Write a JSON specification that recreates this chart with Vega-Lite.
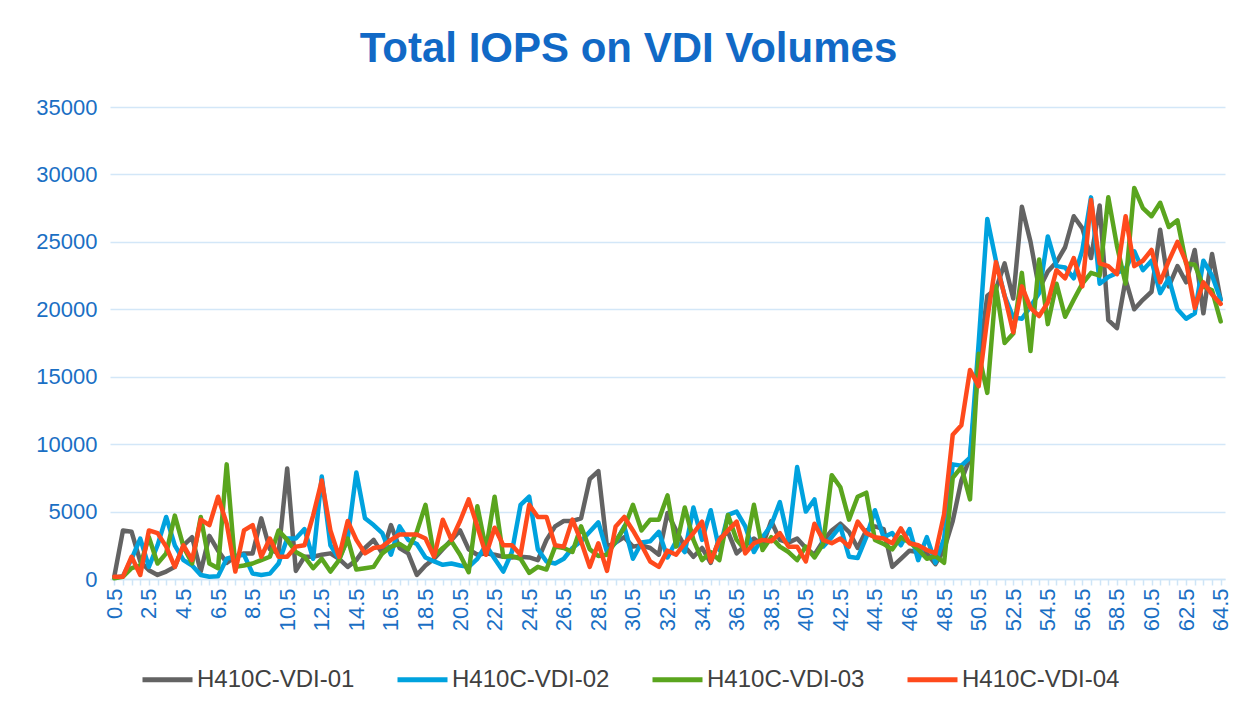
{
"$schema": "https://vega.github.io/schema/vega-lite/v6.json",
"width": 1115, "height": 472,
"autosize": {"type": "none"},
"padding": {"left": 110, "top": 107, "right": 27, "bottom": 134},
"background": "white",
"title": {"text": "Total IOPS on VDI Volumes", "font": "Liberation Sans", "fontSize": 42, "fontWeight": "bold", "color": "#1169C6", "anchor": "middle", "dx": -39, "offset": 25},
"config": {"view": {"stroke": null}},
"data": {"values": [
{"s":"H410C-VDI-01","x":0.5,"v":200},{"s":"H410C-VDI-01","x":1,"v":3600},{"s":"H410C-VDI-01","x":1.5,"v":3500},{"s":"H410C-VDI-01","x":2,"v":1300},{"s":"H410C-VDI-01","x":2.5,"v":650},{"s":"H410C-VDI-01","x":3,"v":300},{"s":"H410C-VDI-01","x":3.5,"v":550},{"s":"H410C-VDI-01","x":4,"v":900},{"s":"H410C-VDI-01","x":4.5,"v":2500},{"s":"H410C-VDI-01","x":5,"v":3100},
{"s":"H410C-VDI-01","x":5.5,"v":550},{"s":"H410C-VDI-01","x":6,"v":3200},{"s":"H410C-VDI-01","x":6.5,"v":2100},{"s":"H410C-VDI-01","x":7,"v":1200},{"s":"H410C-VDI-01","x":7.5,"v":1650},{"s":"H410C-VDI-01","x":8,"v":1900},{"s":"H410C-VDI-01","x":8.5,"v":1900},{"s":"H410C-VDI-01","x":9,"v":4500},{"s":"H410C-VDI-01","x":9.5,"v":2200},{"s":"H410C-VDI-01","x":10,"v":1900},
{"s":"H410C-VDI-01","x":10.5,"v":8200},{"s":"H410C-VDI-01","x":11,"v":600},{"s":"H410C-VDI-01","x":11.5,"v":1650},{"s":"H410C-VDI-01","x":12,"v":1650},{"s":"H410C-VDI-01","x":12.5,"v":1800},{"s":"H410C-VDI-01","x":13,"v":1900},{"s":"H410C-VDI-01","x":13.5,"v":1500},{"s":"H410C-VDI-01","x":14,"v":900},{"s":"H410C-VDI-01","x":14.5,"v":1400},{"s":"H410C-VDI-01","x":15,"v":2300},
{"s":"H410C-VDI-01","x":15.5,"v":2900},{"s":"H410C-VDI-01","x":16,"v":1900},{"s":"H410C-VDI-01","x":16.5,"v":4000},{"s":"H410C-VDI-01","x":17,"v":2300},{"s":"H410C-VDI-01","x":17.5,"v":1900},{"s":"H410C-VDI-01","x":18,"v":300},{"s":"H410C-VDI-01","x":18.5,"v":1000},{"s":"H410C-VDI-01","x":19,"v":1500},{"s":"H410C-VDI-01","x":19.5,"v":2200},{"s":"H410C-VDI-01","x":20,"v":2900},
{"s":"H410C-VDI-01","x":20.5,"v":3600},{"s":"H410C-VDI-01","x":21,"v":2200},{"s":"H410C-VDI-01","x":21.5,"v":1800},{"s":"H410C-VDI-01","x":22,"v":1900},{"s":"H410C-VDI-01","x":22.5,"v":1800},{"s":"H410C-VDI-01","x":23,"v":1650},{"s":"H410C-VDI-01","x":23.5,"v":1600},{"s":"H410C-VDI-01","x":24,"v":1650},{"s":"H410C-VDI-01","x":24.5,"v":1600},{"s":"H410C-VDI-01","x":25,"v":1400},
{"s":"H410C-VDI-01","x":25.5,"v":2900},{"s":"H410C-VDI-01","x":26,"v":3900},{"s":"H410C-VDI-01","x":26.5,"v":4300},{"s":"H410C-VDI-01","x":27,"v":4300},{"s":"H410C-VDI-01","x":27.5,"v":4500},{"s":"H410C-VDI-01","x":28,"v":7400},{"s":"H410C-VDI-01","x":28.5,"v":8000},{"s":"H410C-VDI-01","x":29,"v":2400},{"s":"H410C-VDI-01","x":29.5,"v":2700},{"s":"H410C-VDI-01","x":30,"v":3100},
{"s":"H410C-VDI-01","x":30.5,"v":2400},{"s":"H410C-VDI-01","x":31,"v":2500},{"s":"H410C-VDI-01","x":31.5,"v":2300},{"s":"H410C-VDI-01","x":32,"v":1800},{"s":"H410C-VDI-01","x":32.5,"v":4900},{"s":"H410C-VDI-01","x":33,"v":3600},{"s":"H410C-VDI-01","x":33.5,"v":2400},{"s":"H410C-VDI-01","x":34,"v":1650},{"s":"H410C-VDI-01","x":34.5,"v":2300},{"s":"H410C-VDI-01","x":35,"v":1200},
{"s":"H410C-VDI-01","x":35.5,"v":3000},{"s":"H410C-VDI-01","x":36,"v":3500},{"s":"H410C-VDI-01","x":36.5,"v":1900},{"s":"H410C-VDI-01","x":37,"v":2500},{"s":"H410C-VDI-01","x":37.5,"v":3000},{"s":"H410C-VDI-01","x":38,"v":2500},{"s":"H410C-VDI-01","x":38.5,"v":4300},{"s":"H410C-VDI-01","x":39,"v":2900},{"s":"H410C-VDI-01","x":39.5,"v":2700},{"s":"H410C-VDI-01","x":40,"v":3000},
{"s":"H410C-VDI-01","x":40.5,"v":2300},{"s":"H410C-VDI-01","x":41,"v":1800},{"s":"H410C-VDI-01","x":41.5,"v":2800},{"s":"H410C-VDI-01","x":42,"v":3600},{"s":"H410C-VDI-01","x":42.5,"v":4100},{"s":"H410C-VDI-01","x":43,"v":3500},{"s":"H410C-VDI-01","x":43.5,"v":2300},{"s":"H410C-VDI-01","x":44,"v":3600},{"s":"H410C-VDI-01","x":44.5,"v":3900},{"s":"H410C-VDI-01","x":45,"v":3700},
{"s":"H410C-VDI-01","x":45.5,"v":900},{"s":"H410C-VDI-01","x":46,"v":1500},{"s":"H410C-VDI-01","x":46.5,"v":2100},{"s":"H410C-VDI-01","x":47,"v":2000},{"s":"H410C-VDI-01","x":47.5,"v":1900},{"s":"H410C-VDI-01","x":48,"v":1100},{"s":"H410C-VDI-01","x":48.5,"v":2200},{"s":"H410C-VDI-01","x":49,"v":4300},{"s":"H410C-VDI-01","x":49.5,"v":7300},{"s":"H410C-VDI-01","x":50,"v":9000},
{"s":"H410C-VDI-01","x":50.5,"v":16000},{"s":"H410C-VDI-01","x":51,"v":21000},{"s":"H410C-VDI-01","x":51.5,"v":21500},{"s":"H410C-VDI-01","x":52,"v":23400},{"s":"H410C-VDI-01","x":52.5,"v":20800},{"s":"H410C-VDI-01","x":53,"v":27600},{"s":"H410C-VDI-01","x":53.5,"v":25000},{"s":"H410C-VDI-01","x":54,"v":21500},{"s":"H410C-VDI-01","x":54.5,"v":22800},{"s":"H410C-VDI-01","x":55,"v":23500},
{"s":"H410C-VDI-01","x":55.5,"v":24600},{"s":"H410C-VDI-01","x":56,"v":26900},{"s":"H410C-VDI-01","x":56.5,"v":26000},{"s":"H410C-VDI-01","x":57,"v":23800},{"s":"H410C-VDI-01","x":57.5,"v":27700},{"s":"H410C-VDI-01","x":58,"v":19200},{"s":"H410C-VDI-01","x":58.5,"v":18600},{"s":"H410C-VDI-01","x":59,"v":22200},{"s":"H410C-VDI-01","x":59.5,"v":20000},{"s":"H410C-VDI-01","x":60,"v":20700},
{"s":"H410C-VDI-01","x":60.5,"v":21300},{"s":"H410C-VDI-01","x":61,"v":25900},{"s":"H410C-VDI-01","x":61.5,"v":21700},{"s":"H410C-VDI-01","x":62,"v":23200},{"s":"H410C-VDI-01","x":62.5,"v":22000},{"s":"H410C-VDI-01","x":63,"v":24400},{"s":"H410C-VDI-01","x":63.5,"v":19700},{"s":"H410C-VDI-01","x":64,"v":24100},{"s":"H410C-VDI-01","x":64.5,"v":20700},

{"s":"H410C-VDI-02","x":0.5,"v":100},{"s":"H410C-VDI-02","x":1,"v":200},{"s":"H410C-VDI-02","x":1.5,"v":1500},{"s":"H410C-VDI-02","x":2,"v":3000},{"s":"H410C-VDI-02","x":2.5,"v":900},{"s":"H410C-VDI-02","x":3,"v":2500},{"s":"H410C-VDI-02","x":3.5,"v":4600},{"s":"H410C-VDI-02","x":4,"v":2500},{"s":"H410C-VDI-02","x":4.5,"v":1400},{"s":"H410C-VDI-02","x":5,"v":1000},
{"s":"H410C-VDI-02","x":5.5,"v":300},{"s":"H410C-VDI-02","x":6,"v":170},{"s":"H410C-VDI-02","x":6.5,"v":200},{"s":"H410C-VDI-02","x":7,"v":1500},{"s":"H410C-VDI-02","x":7.5,"v":1700},{"s":"H410C-VDI-02","x":8,"v":1800},{"s":"H410C-VDI-02","x":8.5,"v":400},{"s":"H410C-VDI-02","x":9,"v":300},{"s":"H410C-VDI-02","x":9.5,"v":400},{"s":"H410C-VDI-02","x":10,"v":1150},
{"s":"H410C-VDI-02","x":10.5,"v":3000},{"s":"H410C-VDI-02","x":11,"v":3000},{"s":"H410C-VDI-02","x":11.5,"v":3700},{"s":"H410C-VDI-02","x":12,"v":1500},{"s":"H410C-VDI-02","x":12.5,"v":7600},{"s":"H410C-VDI-02","x":13,"v":2500},{"s":"H410C-VDI-02","x":13.5,"v":1500},{"s":"H410C-VDI-02","x":14,"v":3000},{"s":"H410C-VDI-02","x":14.5,"v":7900},{"s":"H410C-VDI-02","x":15,"v":4500},
{"s":"H410C-VDI-02","x":15.5,"v":4000},{"s":"H410C-VDI-02","x":16,"v":3400},{"s":"H410C-VDI-02","x":16.5,"v":1800},{"s":"H410C-VDI-02","x":17,"v":3900},{"s":"H410C-VDI-02","x":17.5,"v":2900},{"s":"H410C-VDI-02","x":18,"v":2600},{"s":"H410C-VDI-02","x":18.5,"v":1600},{"s":"H410C-VDI-02","x":19,"v":1300},{"s":"H410C-VDI-02","x":19.5,"v":1050},{"s":"H410C-VDI-02","x":20,"v":1150},
{"s":"H410C-VDI-02","x":20.5,"v":1000},{"s":"H410C-VDI-02","x":21,"v":900},{"s":"H410C-VDI-02","x":21.5,"v":1500},{"s":"H410C-VDI-02","x":22,"v":2500},{"s":"H410C-VDI-02","x":22.5,"v":1500},{"s":"H410C-VDI-02","x":23,"v":550},{"s":"H410C-VDI-02","x":23.5,"v":2000},{"s":"H410C-VDI-02","x":24,"v":5500},{"s":"H410C-VDI-02","x":24.5,"v":6100},{"s":"H410C-VDI-02","x":25,"v":2200},
{"s":"H410C-VDI-02","x":25.5,"v":1300},{"s":"H410C-VDI-02","x":26,"v":1150},{"s":"H410C-VDI-02","x":26.5,"v":1500},{"s":"H410C-VDI-02","x":27,"v":2300},{"s":"H410C-VDI-02","x":27.5,"v":2800},{"s":"H410C-VDI-02","x":28,"v":3500},{"s":"H410C-VDI-02","x":28.5,"v":4200},{"s":"H410C-VDI-02","x":29,"v":2000},{"s":"H410C-VDI-02","x":29.5,"v":2700},{"s":"H410C-VDI-02","x":30,"v":3900},
{"s":"H410C-VDI-02","x":30.5,"v":1500},{"s":"H410C-VDI-02","x":31,"v":2700},{"s":"H410C-VDI-02","x":31.5,"v":2800},{"s":"H410C-VDI-02","x":32,"v":3500},{"s":"H410C-VDI-02","x":32.5,"v":1600},{"s":"H410C-VDI-02","x":33,"v":2800},{"s":"H410C-VDI-02","x":33.5,"v":2000},{"s":"H410C-VDI-02","x":34,"v":5300},{"s":"H410C-VDI-02","x":34.5,"v":2900},{"s":"H410C-VDI-02","x":35,"v":5100},
{"s":"H410C-VDI-02","x":35.5,"v":2150},{"s":"H410C-VDI-02","x":36,"v":4750},{"s":"H410C-VDI-02","x":36.5,"v":5000},{"s":"H410C-VDI-02","x":37,"v":3900},{"s":"H410C-VDI-02","x":37.5,"v":2000},{"s":"H410C-VDI-02","x":38,"v":3100},{"s":"H410C-VDI-02","x":38.5,"v":4000},{"s":"H410C-VDI-02","x":39,"v":5700},{"s":"H410C-VDI-02","x":39.5,"v":2900},{"s":"H410C-VDI-02","x":40,"v":8300},
{"s":"H410C-VDI-02","x":40.5,"v":5000},{"s":"H410C-VDI-02","x":41,"v":5900},{"s":"H410C-VDI-02","x":41.5,"v":2400},{"s":"H410C-VDI-02","x":42,"v":3100},{"s":"H410C-VDI-02","x":42.5,"v":3900},{"s":"H410C-VDI-02","x":43,"v":1650},{"s":"H410C-VDI-02","x":43.5,"v":1550},{"s":"H410C-VDI-02","x":44,"v":3100},{"s":"H410C-VDI-02","x":44.5,"v":5100},{"s":"H410C-VDI-02","x":45,"v":3100},
{"s":"H410C-VDI-02","x":45.5,"v":3400},{"s":"H410C-VDI-02","x":46,"v":2500},{"s":"H410C-VDI-02","x":46.5,"v":3700},{"s":"H410C-VDI-02","x":47,"v":1400},{"s":"H410C-VDI-02","x":47.5,"v":3100},{"s":"H410C-VDI-02","x":48,"v":1200},{"s":"H410C-VDI-02","x":48.5,"v":3000},{"s":"H410C-VDI-02","x":49,"v":8500},{"s":"H410C-VDI-02","x":49.5,"v":8400},{"s":"H410C-VDI-02","x":50,"v":9000},
{"s":"H410C-VDI-02","x":50.5,"v":17500},{"s":"H410C-VDI-02","x":51,"v":26700},{"s":"H410C-VDI-02","x":51.5,"v":23600},{"s":"H410C-VDI-02","x":52,"v":21000},{"s":"H410C-VDI-02","x":52.5,"v":19400},{"s":"H410C-VDI-02","x":53,"v":19300},{"s":"H410C-VDI-02","x":53.5,"v":20200},{"s":"H410C-VDI-02","x":54,"v":21200},{"s":"H410C-VDI-02","x":54.5,"v":25400},{"s":"H410C-VDI-02","x":55,"v":23200},
{"s":"H410C-VDI-02","x":55.5,"v":23100},{"s":"H410C-VDI-02","x":56,"v":22300},{"s":"H410C-VDI-02","x":56.5,"v":24400},{"s":"H410C-VDI-02","x":57,"v":28300},{"s":"H410C-VDI-02","x":57.5,"v":21900},{"s":"H410C-VDI-02","x":58,"v":22400},{"s":"H410C-VDI-02","x":58.5,"v":22700},{"s":"H410C-VDI-02","x":59,"v":23000},{"s":"H410C-VDI-02","x":59.5,"v":24300},{"s":"H410C-VDI-02","x":60,"v":22900},
{"s":"H410C-VDI-02","x":60.5,"v":23600},{"s":"H410C-VDI-02","x":61,"v":21200},{"s":"H410C-VDI-02","x":61.5,"v":22300},{"s":"H410C-VDI-02","x":62,"v":20000},{"s":"H410C-VDI-02","x":62.5,"v":19300},{"s":"H410C-VDI-02","x":63,"v":19700},{"s":"H410C-VDI-02","x":63.5,"v":23600},{"s":"H410C-VDI-02","x":64,"v":22500},{"s":"H410C-VDI-02","x":64.5,"v":20700},

{"s":"H410C-VDI-03","x":0.5,"v":50},{"s":"H410C-VDI-03","x":1,"v":170},{"s":"H410C-VDI-03","x":1.5,"v":800},{"s":"H410C-VDI-03","x":2,"v":1000},{"s":"H410C-VDI-03","x":2.5,"v":3100},{"s":"H410C-VDI-03","x":3,"v":1150},{"s":"H410C-VDI-03","x":3.5,"v":1900},{"s":"H410C-VDI-03","x":4,"v":4700},{"s":"H410C-VDI-03","x":4.5,"v":2400},{"s":"H410C-VDI-03","x":5,"v":1150},
{"s":"H410C-VDI-03","x":5.5,"v":4600},{"s":"H410C-VDI-03","x":6,"v":1150},{"s":"H410C-VDI-03","x":6.5,"v":800},{"s":"H410C-VDI-03","x":7,"v":8500},{"s":"H410C-VDI-03","x":7.5,"v":900},{"s":"H410C-VDI-03","x":8,"v":1000},{"s":"H410C-VDI-03","x":8.5,"v":1150},{"s":"H410C-VDI-03","x":9,"v":1400},{"s":"H410C-VDI-03","x":9.5,"v":1650},{"s":"H410C-VDI-03","x":10,"v":3600},
{"s":"H410C-VDI-03","x":10.5,"v":2900},{"s":"H410C-VDI-03","x":11,"v":2000},{"s":"H410C-VDI-03","x":11.5,"v":1650},{"s":"H410C-VDI-03","x":12,"v":800},{"s":"H410C-VDI-03","x":12.5,"v":1500},{"s":"H410C-VDI-03","x":13,"v":550},{"s":"H410C-VDI-03","x":13.5,"v":1400},{"s":"H410C-VDI-03","x":14,"v":3000},{"s":"H410C-VDI-03","x":14.5,"v":700},{"s":"H410C-VDI-03","x":15,"v":800},
{"s":"H410C-VDI-03","x":15.5,"v":900},{"s":"H410C-VDI-03","x":16,"v":1900},{"s":"H410C-VDI-03","x":16.5,"v":2400},{"s":"H410C-VDI-03","x":17,"v":2600},{"s":"H410C-VDI-03","x":17.5,"v":2200},{"s":"H410C-VDI-03","x":18,"v":3500},{"s":"H410C-VDI-03","x":18.5,"v":5500},{"s":"H410C-VDI-03","x":19,"v":1700},{"s":"H410C-VDI-03","x":19.5,"v":2300},{"s":"H410C-VDI-03","x":20,"v":2800},
{"s":"H410C-VDI-03","x":20.5,"v":1800},{"s":"H410C-VDI-03","x":21,"v":500},{"s":"H410C-VDI-03","x":21.5,"v":5400},{"s":"H410C-VDI-03","x":22,"v":2200},{"s":"H410C-VDI-03","x":22.5,"v":6100},{"s":"H410C-VDI-03","x":23,"v":1650},{"s":"H410C-VDI-03","x":23.5,"v":1700},{"s":"H410C-VDI-03","x":24,"v":1500},{"s":"H410C-VDI-03","x":24.5,"v":450},{"s":"H410C-VDI-03","x":25,"v":900},
{"s":"H410C-VDI-03","x":25.5,"v":700},{"s":"H410C-VDI-03","x":26,"v":2400},{"s":"H410C-VDI-03","x":26.5,"v":2300},{"s":"H410C-VDI-03","x":27,"v":2000},{"s":"H410C-VDI-03","x":27.5,"v":3900},{"s":"H410C-VDI-03","x":28,"v":2200},{"s":"H410C-VDI-03","x":28.5,"v":1700},{"s":"H410C-VDI-03","x":29,"v":1800},{"s":"H410C-VDI-03","x":29.5,"v":2800},{"s":"H410C-VDI-03","x":30,"v":3800},
{"s":"H410C-VDI-03","x":30.5,"v":5500},{"s":"H410C-VDI-03","x":31,"v":3600},{"s":"H410C-VDI-03","x":31.5,"v":4400},{"s":"H410C-VDI-03","x":32,"v":4400},{"s":"H410C-VDI-03","x":32.5,"v":6200},{"s":"H410C-VDI-03","x":33,"v":2400},{"s":"H410C-VDI-03","x":33.5,"v":5300},{"s":"H410C-VDI-03","x":34,"v":2900},{"s":"H410C-VDI-03","x":34.5,"v":1400},{"s":"H410C-VDI-03","x":35,"v":2000},
{"s":"H410C-VDI-03","x":35.5,"v":1400},{"s":"H410C-VDI-03","x":36,"v":4750},{"s":"H410C-VDI-03","x":36.5,"v":2900},{"s":"H410C-VDI-03","x":37,"v":2150},{"s":"H410C-VDI-03","x":37.5,"v":5500},{"s":"H410C-VDI-03","x":38,"v":2150},{"s":"H410C-VDI-03","x":38.5,"v":3100},{"s":"H410C-VDI-03","x":39,"v":2400},{"s":"H410C-VDI-03","x":39.5,"v":2000},{"s":"H410C-VDI-03","x":40,"v":1400},
{"s":"H410C-VDI-03","x":40.5,"v":2400},{"s":"H410C-VDI-03","x":41,"v":1600},{"s":"H410C-VDI-03","x":41.5,"v":2600},{"s":"H410C-VDI-03","x":42,"v":7700},{"s":"H410C-VDI-03","x":42.5,"v":6800},{"s":"H410C-VDI-03","x":43,"v":4400},{"s":"H410C-VDI-03","x":43.5,"v":6100},{"s":"H410C-VDI-03","x":44,"v":6400},{"s":"H410C-VDI-03","x":44.5,"v":2900},{"s":"H410C-VDI-03","x":45,"v":2600},
{"s":"H410C-VDI-03","x":45.5,"v":2200},{"s":"H410C-VDI-03","x":46,"v":3100},{"s":"H410C-VDI-03","x":46.5,"v":2700},{"s":"H410C-VDI-03","x":47,"v":2200},{"s":"H410C-VDI-03","x":47.5,"v":1500},{"s":"H410C-VDI-03","x":48,"v":1700},{"s":"H410C-VDI-03","x":48.5,"v":1200},{"s":"H410C-VDI-03","x":49,"v":7500},{"s":"H410C-VDI-03","x":49.5,"v":8300},{"s":"H410C-VDI-03","x":50,"v":5900},
{"s":"H410C-VDI-03","x":50.5,"v":16700},{"s":"H410C-VDI-03","x":51,"v":13800},{"s":"H410C-VDI-03","x":51.5,"v":21700},{"s":"H410C-VDI-03","x":52,"v":17500},{"s":"H410C-VDI-03","x":52.5,"v":18200},{"s":"H410C-VDI-03","x":53,"v":22700},{"s":"H410C-VDI-03","x":53.5,"v":16900},{"s":"H410C-VDI-03","x":54,"v":23700},{"s":"H410C-VDI-03","x":54.5,"v":18900},{"s":"H410C-VDI-03","x":55,"v":21900},
{"s":"H410C-VDI-03","x":55.5,"v":19450},{"s":"H410C-VDI-03","x":56,"v":20700},{"s":"H410C-VDI-03","x":56.5,"v":21900},{"s":"H410C-VDI-03","x":57,"v":22700},{"s":"H410C-VDI-03","x":57.5,"v":22500},{"s":"H410C-VDI-03","x":58,"v":28300},{"s":"H410C-VDI-03","x":58.5,"v":24700},{"s":"H410C-VDI-03","x":59,"v":21900},{"s":"H410C-VDI-03","x":59.5,"v":29000},{"s":"H410C-VDI-03","x":60,"v":27500},
{"s":"H410C-VDI-03","x":60.5,"v":26900},{"s":"H410C-VDI-03","x":61,"v":27900},{"s":"H410C-VDI-03","x":61.5,"v":26100},{"s":"H410C-VDI-03","x":62,"v":26600},{"s":"H410C-VDI-03","x":62.5,"v":23400},{"s":"H410C-VDI-03","x":63,"v":23300},{"s":"H410C-VDI-03","x":63.5,"v":21700},{"s":"H410C-VDI-03","x":64,"v":21400},{"s":"H410C-VDI-03","x":64.5,"v":19100},

{"s":"H410C-VDI-04","x":0.5,"v":170},{"s":"H410C-VDI-04","x":1,"v":170},{"s":"H410C-VDI-04","x":1.5,"v":1650},{"s":"H410C-VDI-04","x":2,"v":300},{"s":"H410C-VDI-04","x":2.5,"v":3600},{"s":"H410C-VDI-04","x":3,"v":3400},{"s":"H410C-VDI-04","x":3.5,"v":2400},{"s":"H410C-VDI-04","x":4,"v":900},{"s":"H410C-VDI-04","x":4.5,"v":2500},{"s":"H410C-VDI-04","x":5,"v":1400},
{"s":"H410C-VDI-04","x":5.5,"v":4400},{"s":"H410C-VDI-04","x":6,"v":4000},{"s":"H410C-VDI-04","x":6.5,"v":6100},{"s":"H410C-VDI-04","x":7,"v":4100},{"s":"H410C-VDI-04","x":7.5,"v":550},{"s":"H410C-VDI-04","x":8,"v":3600},{"s":"H410C-VDI-04","x":8.5,"v":4000},{"s":"H410C-VDI-04","x":9,"v":1650},{"s":"H410C-VDI-04","x":9.5,"v":3000},{"s":"H410C-VDI-04","x":10,"v":1650},
{"s":"H410C-VDI-04","x":10.5,"v":1650},{"s":"H410C-VDI-04","x":11,"v":2400},{"s":"H410C-VDI-04","x":11.5,"v":2500},{"s":"H410C-VDI-04","x":12,"v":4700},{"s":"H410C-VDI-04","x":12.5,"v":7300},{"s":"H410C-VDI-04","x":13,"v":3600},{"s":"H410C-VDI-04","x":13.5,"v":1650},{"s":"H410C-VDI-04","x":14,"v":4300},{"s":"H410C-VDI-04","x":14.5,"v":2900},{"s":"H410C-VDI-04","x":15,"v":1900},
{"s":"H410C-VDI-04","x":15.5,"v":2300},{"s":"H410C-VDI-04","x":16,"v":2400},{"s":"H410C-VDI-04","x":16.5,"v":2900},{"s":"H410C-VDI-04","x":17,"v":3300},{"s":"H410C-VDI-04","x":17.5,"v":3300},{"s":"H410C-VDI-04","x":18,"v":3300},{"s":"H410C-VDI-04","x":18.5,"v":3000},{"s":"H410C-VDI-04","x":19,"v":1650},{"s":"H410C-VDI-04","x":19.5,"v":4400},{"s":"H410C-VDI-04","x":20,"v":2900},
{"s":"H410C-VDI-04","x":20.5,"v":4300},{"s":"H410C-VDI-04","x":21,"v":5900},{"s":"H410C-VDI-04","x":21.5,"v":3900},{"s":"H410C-VDI-04","x":22,"v":1800},{"s":"H410C-VDI-04","x":22.5,"v":3800},{"s":"H410C-VDI-04","x":23,"v":2500},{"s":"H410C-VDI-04","x":23.5,"v":2500},{"s":"H410C-VDI-04","x":24,"v":1800},{"s":"H410C-VDI-04","x":24.5,"v":5500},{"s":"H410C-VDI-04","x":25,"v":4600},
{"s":"H410C-VDI-04","x":25.5,"v":4600},{"s":"H410C-VDI-04","x":26,"v":2500},{"s":"H410C-VDI-04","x":26.5,"v":2400},{"s":"H410C-VDI-04","x":27,"v":4400},{"s":"H410C-VDI-04","x":27.5,"v":2800},{"s":"H410C-VDI-04","x":28,"v":900},{"s":"H410C-VDI-04","x":28.5,"v":2650},{"s":"H410C-VDI-04","x":29,"v":600},{"s":"H410C-VDI-04","x":29.5,"v":3900},{"s":"H410C-VDI-04","x":30,"v":4600},
{"s":"H410C-VDI-04","x":30.5,"v":3600},{"s":"H410C-VDI-04","x":31,"v":2500},{"s":"H410C-VDI-04","x":31.5,"v":1300},{"s":"H410C-VDI-04","x":32,"v":900},{"s":"H410C-VDI-04","x":32.5,"v":2100},{"s":"H410C-VDI-04","x":33,"v":1800},{"s":"H410C-VDI-04","x":33.5,"v":2650},{"s":"H410C-VDI-04","x":34,"v":3400},{"s":"H410C-VDI-04","x":34.5,"v":4250},{"s":"H410C-VDI-04","x":35,"v":1300},
{"s":"H410C-VDI-04","x":35.5,"v":2900},{"s":"H410C-VDI-04","x":36,"v":3600},{"s":"H410C-VDI-04","x":36.5,"v":4250},{"s":"H410C-VDI-04","x":37,"v":1900},{"s":"H410C-VDI-04","x":37.5,"v":2650},{"s":"H410C-VDI-04","x":38,"v":2900},{"s":"H410C-VDI-04","x":38.5,"v":2800},{"s":"H410C-VDI-04","x":39,"v":3400},{"s":"H410C-VDI-04","x":39.5,"v":2400},{"s":"H410C-VDI-04","x":40,"v":2400},
{"s":"H410C-VDI-04","x":40.5,"v":1300},{"s":"H410C-VDI-04","x":41,"v":4100},{"s":"H410C-VDI-04","x":41.5,"v":2900},{"s":"H410C-VDI-04","x":42,"v":2650},{"s":"H410C-VDI-04","x":42.5,"v":3000},{"s":"H410C-VDI-04","x":43,"v":2400},{"s":"H410C-VDI-04","x":43.5,"v":4250},{"s":"H410C-VDI-04","x":44,"v":3400},{"s":"H410C-VDI-04","x":44.5,"v":3100},{"s":"H410C-VDI-04","x":45,"v":3000},
{"s":"H410C-VDI-04","x":45.5,"v":2650},{"s":"H410C-VDI-04","x":46,"v":3750},{"s":"H410C-VDI-04","x":46.5,"v":2650},{"s":"H410C-VDI-04","x":47,"v":2500},{"s":"H410C-VDI-04","x":47.5,"v":2150},{"s":"H410C-VDI-04","x":48,"v":1900},{"s":"H410C-VDI-04","x":48.5,"v":4800},{"s":"H410C-VDI-04","x":49,"v":10700},{"s":"H410C-VDI-04","x":49.5,"v":11400},{"s":"H410C-VDI-04","x":50,"v":15500},
{"s":"H410C-VDI-04","x":50.5,"v":14300},{"s":"H410C-VDI-04","x":51,"v":19300},{"s":"H410C-VDI-04","x":51.5,"v":23500},{"s":"H410C-VDI-04","x":52,"v":21000},{"s":"H410C-VDI-04","x":52.5,"v":18300},{"s":"H410C-VDI-04","x":53,"v":21700},{"s":"H410C-VDI-04","x":53.5,"v":20100},{"s":"H410C-VDI-04","x":54,"v":19500},{"s":"H410C-VDI-04","x":54.5,"v":20500},{"s":"H410C-VDI-04","x":55,"v":22900},
{"s":"H410C-VDI-04","x":55.5,"v":22300},{"s":"H410C-VDI-04","x":56,"v":23800},{"s":"H410C-VDI-04","x":56.5,"v":21700},{"s":"H410C-VDI-04","x":57,"v":28100},{"s":"H410C-VDI-04","x":57.5,"v":23400},{"s":"H410C-VDI-04","x":58,"v":23200},{"s":"H410C-VDI-04","x":58.5,"v":22600},{"s":"H410C-VDI-04","x":59,"v":26900},{"s":"H410C-VDI-04","x":59.5,"v":23200},{"s":"H410C-VDI-04","x":60,"v":23600},
{"s":"H410C-VDI-04","x":60.5,"v":24400},{"s":"H410C-VDI-04","x":61,"v":22000},{"s":"H410C-VDI-04","x":61.5,"v":23600},{"s":"H410C-VDI-04","x":62,"v":25000},{"s":"H410C-VDI-04","x":62.5,"v":23500},{"s":"H410C-VDI-04","x":63,"v":20100},{"s":"H410C-VDI-04","x":63.5,"v":22000},{"s":"H410C-VDI-04","x":64,"v":21100},{"s":"H410C-VDI-04","x":64.5,"v":20400}
]},
"mark": {"type": "line", "strokeWidth": 4.5, "strokeCap": "round", "strokeJoin": "round"},
"encoding": {
  "x": {"field": "x", "type": "ordinal", "sort": "ascending",
    "scale": {"type": "point", "padding": 0.5},
    "axis": {"title": null, "labelAngle": -90, "labelFont": "Liberation Sans", "labelFontSize": 22, "labelColor": "#1A6FC4",
      "labelExpr": "datum.value % 2 == 0.5 ? datum.label : ''", "labelOverlap": false, "labelPadding": 3,
      "domainColor": "#CFE5F7", "domainWidth": 1.5, "tickColor": "#CFE5F7", "tickWidth": 1.5, "tickSize": 6, "grid": false}},
  "y": {"field": "v", "type": "quantitative",
    "scale": {"domain": [0, 35000], "nice": false},
    "axis": {"title": null, "values": [0,5000,10000,15000,20000,25000,30000,35000], "format": "d",
      "labelFont": "Liberation Sans", "labelFontSize": 22, "labelColor": "#1A6FC4", "labelPadding": 13,
      "domain": false, "ticks": false, "grid": true, "gridColor": "#D3E7F8", "gridWidth": 1.5}},
  "color": {"field": "s", "type": "nominal",
    "scale": {"domain": ["H410C-VDI-01","H410C-VDI-02","H410C-VDI-03","H410C-VDI-04"], "range": ["#636363","#00A2DE","#5AA51E","#FF4A1C"]},
    "legend": {"title": null, "orient": "none", "direction": "horizontal", "legendX": 30, "legendY": 545,
      "symbolType": "stroke", "symbolSize": 2500, "symbolStrokeWidth": 5, "labelFont": "Liberation Sans", "labelFontSize": 24,
      "labelColor": "#404040", "labelOffset": 2, "columnPadding": 32, "labelLimit": 300}}
}
}
